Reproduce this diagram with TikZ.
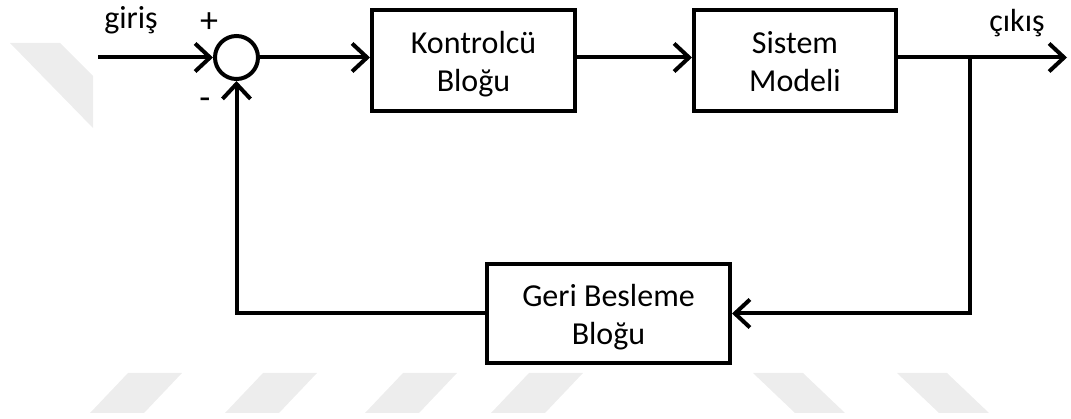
\documentclass[tikz,border=0pt]{standalone}
\usepackage{fontspec}
\setmainfont{Carlito}
\usetikzlibrary{arrows.meta}
\begin{document}
\begin{tikzpicture}[x=1pt,y=-1pt,
  every node/.style={font=\fontsize{32}{38}\selectfont},
  block/.style={draw, line width=4pt, align=center, inner sep=0pt, text height=75pt, text depth=12pt},
  sumnode/.style={draw, circle, line width=4pt, minimum size=43pt, inner sep=0pt},
  flow/.style={line width=4pt, -{Straight Barb[length=15pt,width=28pt]}},
  wmark/.style={fill=black!7, draw=none}
]
\useasboundingbox (0,0) rectangle (1071,419);

% faint background marks
\fill[wmark] (10,43) -- (60,43) -- (93,76) -- (93,128) -- cycle;
\foreach \t in {128,263,403,529}
  \fill[wmark] (\t,373) -- (\t+54,373) -- (\t+16,413) -- (\t-38,413) -- cycle;
\foreach \t in {753,897}
  \fill[wmark] (\t,373) -- (\t+50,373) -- (\t+92,413) -- (\t+42,413) -- cycle;

% blocks
\node[sumnode] (sum) at (236.5,57.5) {};
\node[block, minimum width=203pt, minimum height=101pt] (kb) at (473.5,60.5) {Kontrolcü\\Bloğu};
\node[block, minimum width=202pt, minimum height=101pt] (sm) at (795,60.5) {Sistem\\Modeli};
\node[block, minimum width=243pt, minimum height=99pt] (gb) at (608.5,313.5) {Geri Besleme\\Bloğu};

% signal ends
\coordinate (in) at (98,57.5);
\coordinate (out) at (1067,57.5);
\coordinate (br) at (969.5,57.5);

% connectors
\draw[flow] (in) -- (sum.west);
\draw[flow] (sum.east) -- (sum -| kb.west);
\draw[flow] (kb.east |- sum) -- (sum -| sm.west);
\draw[flow] (sm.east |- sum) -- (out);
\draw[flow] (br) |- (gb.east);
\draw[flow] (gb.west) -| (sum.south);

% labels
\node[anchor=base] (lin) at (131,29) {giriş};
\node[anchor=base] (lout) at (1017,32) {çıkış};
\node[font=\fontsize{36}{40}\selectfont] (plus) at (209,23) {+};
\node[font=\fontsize{36}{40}\selectfont] (minus) at (205,104) {-};
\end{tikzpicture}
\end{document}
